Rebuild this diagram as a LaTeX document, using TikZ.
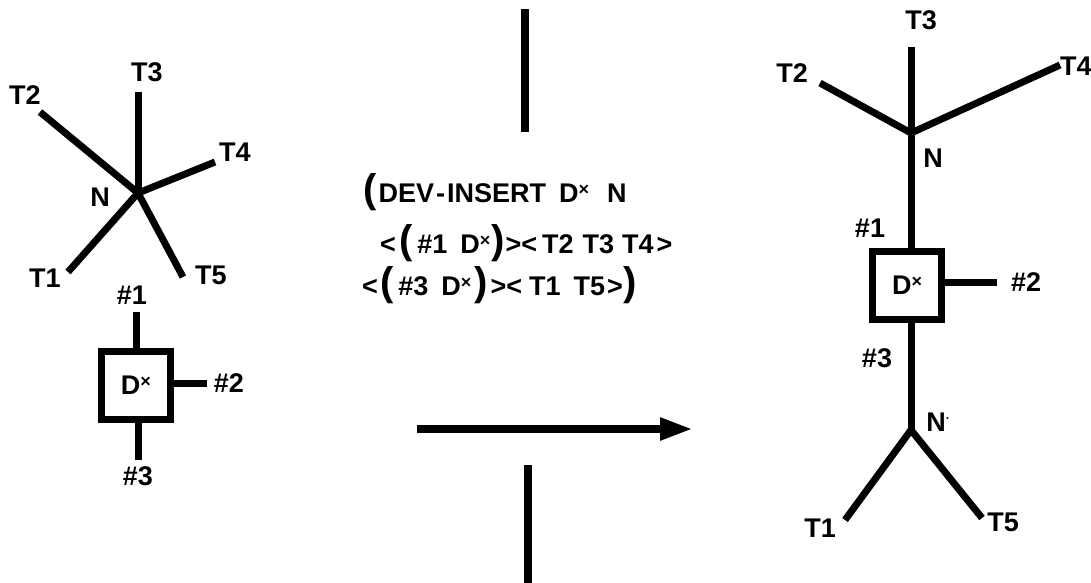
\documentclass[tikz,border=0pt]{standalone}
\usepackage{fontspec}
\setmainfont{Liberation Sans}
\usetikzlibrary{arrows.meta}
\newcommand\sx{\raisebox{7pt}{\fontsize{18}{18}\selectfont\bfseries ×}}
\newcommand\bp[1]{{\fontsize{40}{40}\selectfont #1}}
\begin{document}
\begin{tikzpicture}[x=1pt,y=-1pt,
  font=\fontsize{27}{32}\selectfont\bfseries,
  edge/.style={line width=7pt},
  bar/.style={line width=8pt},
  lbl/.style={inner sep=0pt, anchor=center},
  txt/.style={inner sep=0pt, anchor=base west},
  dev/.style={draw, line width=7pt, minimum width=69pt, minimum height=68pt, inner sep=0pt}]
\useasboundingbox (0,0) rectangle (1091,582);
\clip (0,0) rectangle (1091,582);
% ---------- left star ----------
\coordinate (n) at (138,193);
\coordinate (t1e) at (68,272);
\coordinate (t2e) at (40,112);
\coordinate (t3e) at (138,92);
\coordinate (t4e) at (215,162);
\coordinate (t5e) at (183,277);
\draw[edge] (n) -- (t1e);
\draw[edge] (n) -- (t2e);
\draw[edge] (n) -- (t3e);
\draw[edge] (n) -- (t4e);
\draw[edge] (n) -- (t5e);
\node[lbl] (lt1) at (45,278) {T1};
\node[lbl] (lt2) at (25,95) {T2};
\node[lbl] (lt3) at (147,72) {T3};
\node[lbl] (lt4) at (235,152) {T4};
\node[lbl] (lt5) at (211,275) {T5};
\node[lbl] (ln) at (100,197) {N};
% ---------- left device ----------
\node[dev] (box) at (136,385) {D\sx};
\coordinate (p1e) at (136,312);
\coordinate (p2e) at (207,383);
\coordinate (p3e) at (138,460);
\draw[edge] (box.north) -- (p1e);
\draw[edge] (box.east |- p2e) -- (p2e);
\draw[edge] (box.south -| p3e) -- (p3e);
\node[lbl] (lp1) at (132,295) {\#1};
\node[lbl] (lp2) at (229,383) {\#2};
\node[lbl] (lp3) at (138,476) {\#3};
% ---------- middle ----------
\coordinate (vt1) at (525,9);
\coordinate (vt2) at (525,132);
\draw[bar] (vt1) -- (vt2);
\coordinate (vb1) at (528,465);
\coordinate (vb2) at (528,590);
\draw[bar] (vb1) -- (vb2);
\coordinate (a1) at (417,429);
\coordinate (a2) at (693,429);
\draw[bar,-{Triangle[length=33pt,width=21pt]}] (a1) -- (a2);
\node[txt] (c1) at (363,202) {\bp{(}\hspace{2pt}DEV\hspace{2pt}-\hspace{2pt}INSERT\hspace{13pt}D\sx\hspace{18pt}N};
\node[txt] (c2) at (380,253) {<\hspace{4pt}\bp{(}\hspace{4pt}\#1\hspace{13pt}D\sx\hspace{1pt}\bp{)}\hspace{1pt}><\hspace{5pt}T2\hspace{9pt}T3\hspace{8pt}T4\hspace{3pt}>};
\node[txt] (c3) at (362,295) {<\hspace{3pt}\bp{(}\hspace{4pt}\#3\hspace{13pt}D\sx\hspace{3pt}\bp{)}\hspace{3pt}><\hspace{7pt}T1\hspace{13pt}T5\hspace{2pt}>\hspace{1pt}\bp{)}};
% ---------- right tree ----------
\coordinate (rn) at (911,133);
\coordinate (rt2e) at (820,83);
\coordinate (rt3e) at (911,47);
\coordinate (rt4e) at (1060,65);
\draw[edge] (rn) -- (rt2e);
\draw[edge] (rn) -- (rt3e);
\draw[edge] (rn) -- (rt4e);
\node[dev] (rbox) at (907,285) {D\sx};
\coordinate (rnp) at (911,430);
\draw[edge] (rn) -- (rn |- rbox.north);
\draw[edge] (rnp |- rbox.south) -- (rnp);
\coordinate (rp2e) at (997,282);
\draw[edge] (rbox.east |- rp2e) -- (rp2e);
\coordinate (rt1e) at (845,520);
\coordinate (rt5e) at (982,518);
\draw[edge] (rnp) -- (rt1e);
\draw[edge] (rnp) -- (rt5e);
\node[lbl] (rlt3) at (921,20) {T3};
\node[lbl] (rlt2) at (792,73) {T2};
\node[inner sep=0pt, anchor=west] (rlt4) at (1060,66) {T4};
\node[lbl] (rln) at (933,158) {N};
\node[lbl] (rlp1) at (870,228) {\#1};
\node[lbl] (rlp2) at (1026,282) {\#2};
\node[lbl] (rlp3) at (877,358) {\#3};
\node[lbl] (rlnp) at (938,422) {N\raisebox{9pt}{\fontsize{12}{12}\selectfont ·}};
\node[lbl] (rlt1) at (820,528) {T1};
\node[lbl] (rlt5) at (1003,522) {T5};
\end{tikzpicture}
\end{document}
